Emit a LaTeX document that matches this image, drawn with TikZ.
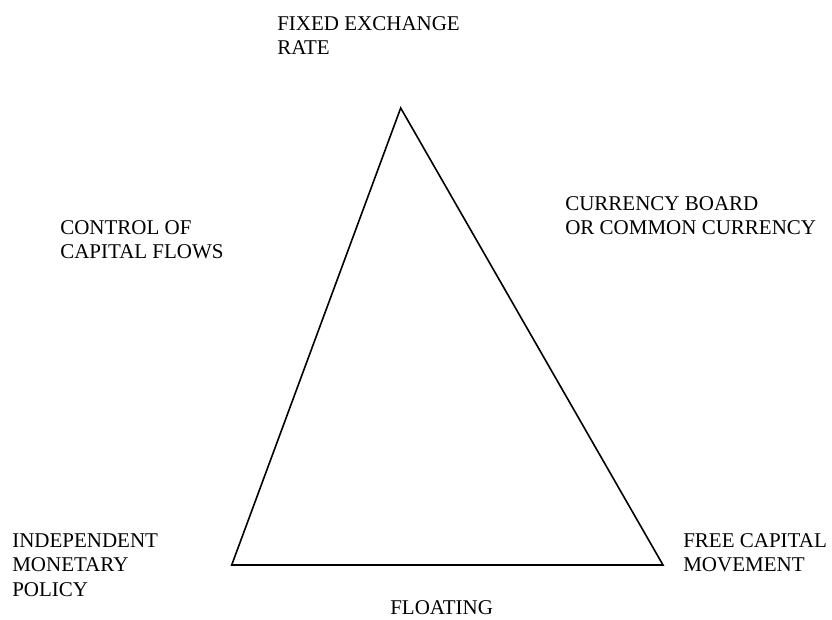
\documentclass[tikz,border=0pt]{standalone}
\usepackage{fontspec}
\setmainfont{Liberation Serif}
\usetikzlibrary{positioning}

\tikzset{
  corner/.style={anchor=north west, inner sep=0pt, align=left,
    font=\fontsize{15.75}{18.4}\selectfont},
  side/.style={line width=1.2pt, line join=miter}
}

\begin{document}
\begin{tikzpicture}[x=0.75pt, y=-0.75pt]
\useasboundingbox (0,0) rectangle (832,619);

% === Triangle ===
\coordinate (apex) at (400.7,108);
\coordinate (lft) at (231.7,565);
\coordinate (rgt) at (663,565);
\draw[side] (apex) -- (rgt) -- (lft) -- cycle;

% === Labels ===
\node[corner] (fixed) at (277,16) {FIXED EXCHANGE\\RATE};
\node[corner] (board) at (565,196) {CURRENCY BOARD\\OR COMMON CURRENCY};
\node[corner] (control) at (60,220) {CONTROL OF\\CAPITAL FLOWS};
\node[corner] (indep) at (12,533) {INDEPENDENT\\MONETARY\\POLICY};
\node[corner] (free) at (683,533) {FREE CAPITAL\\MOVEMENT};
\node[corner] (float) at (390,600) {FLOATING};

\end{tikzpicture}
\end{document}
